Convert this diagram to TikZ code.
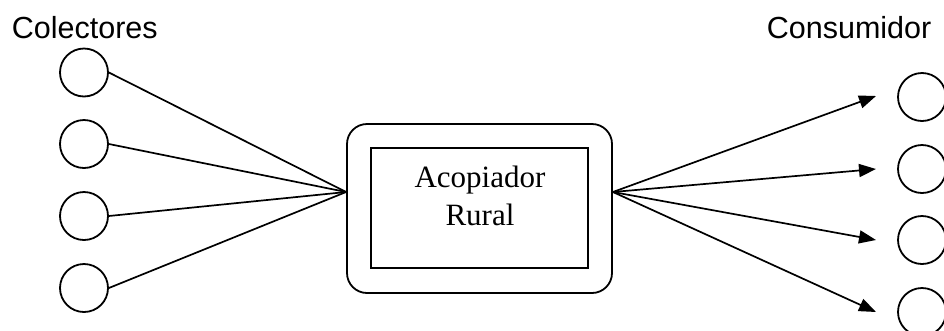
\documentclass[tikz,border=0pt]{standalone}
\usepackage{fontspec}
\setmainfont{Liberation Serif}
\newfontfamily\labelfont{Liberation Sans}
\usetikzlibrary{arrows.meta}
\begin{document}
\begin{tikzpicture}[x=1pt,y=-1pt,
  line width=1.8pt,
  party/.style={circle,draw,minimum size=48pt,inner sep=0pt},
  group/.style={font=\labelfont\fontsize{30.5}{36}\selectfont,inner sep=0pt,anchor=base west},
  link/.style={draw,line width=1.7pt},
  flow/.style={link,-{Triangle[length=17pt,width=13pt]}}]
  \useasboundingbox (0,0) rectangle (944,330);
  \clip (0,0) rectangle (944,330);

  % group headings
  \node[group] (colectores) at (11,38) {Colectores};
  \node[group] (consumidor) at (766,38) {Consumidor};

  % central intermediary: rounded frame with an inner box
  \node[draw,rounded corners=20pt,minimum width=265pt,minimum height=169pt,inner sep=0pt]
    (acopiador) at (479.5,208.5) {};
  \node[draw,minimum width=217pt,minimum height=120pt,inner sep=0pt] (core) at (479.5,208) {};
  \node[font=\fontsize{31}{38}\selectfont,align=center,inner sep=0pt,anchor=base]
    (coretext) at (480,225) {Acopiador\\Rural};

  % points on the frame where the flows meet
  \coordinate (inlet) at (acopiador.west |- 0,192);
  \coordinate (outlet) at (acopiador.east |- 0,192);

  % suppliers on the left
  \foreach \i/\y in {1/72.5,2/144,3/216,4/288}{
    \node[party] (c\i) at (84,\y) {};
    \draw[link] (c\i.east) -- (inlet);
  }

  % consumers on the right
  \foreach \i/\ty/\cy in {1/96/97,2/169/169,3/240/240,4/312/312}{
    \node[party] (k\i) at (922,\cy) {};
    \coordinate (t\i) at (876,\ty);
    \draw[flow] (outlet) -- (t\i);
  }
\end{tikzpicture}
\end{document}
